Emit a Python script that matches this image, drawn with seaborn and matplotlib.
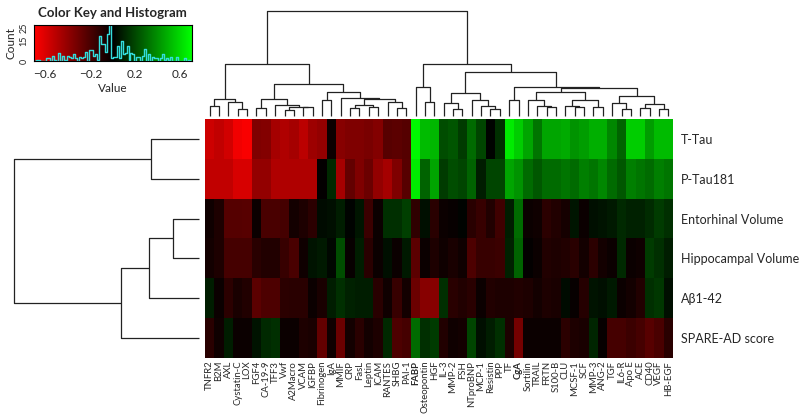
# -*- coding: utf-8 -*-
"""Biomarker vs AD-marker correlation heatmap with dendrograms"""
import numpy as np
import pandas as pd
import matplotlib
matplotlib.use("Agg")
import matplotlib.pyplot as plt
from matplotlib.colors import LinearSegmentedColormap
import seaborn as sns

sns.set_style("white")
plt.rcParams["font.family"] = ["Lato", "DejaVu Sans"]

# ===== data =====
columns = ["TNFR2", "B2M", "AXL", "Cystatin-C", "LOX", "FGF4", "CA-19-9", "TFF3", "Vwf",
           "A2Macro", "VCAM", "IGFBP", "Fibrinogen", "IgA", "MMIF", "CRP", "FasL", "Leptin",
           "ICAM", "RANTES", "SHBG", "PAI-1", "FABP", "Osteopontin", "HGF", "IL-3", "MMP-2",
           "FSH", "NTproBNP", "MCP-1", "Resistin", "PPP", "TF", "CgA", "Sortilin", "TRAIL",
           "FRTN", "S100-B", "CLU", "MCSF-1", "SCF", "MMP-3", "ANG-2", "TGF", "IL6-R", "Apo E",
           "ACE", "CD40", "VEGF", "HB-EGF"]
bold_cols = ["FABP", "CgA"]
rows = ["T-Tau", "P-Tau181", "Entorhinal Volume", "Hippocampal Volume", "Aβ1-42", "SPARE-AD score"]

t_tau = [-0.56, -0.53, -0.57, -0.66, -0.68, -0.35, -0.36, -0.45, -0.48, -0.45,
         -0.51, -0.43, -0.40, -0.03, -0.37, -0.35, -0.35, -0.33, -0.36, -0.24,
         -0.25, -0.23, 0.68, 0.51, 0.50, 0.21, 0.23, 0.16, 0.29, 0.19,
         0.01, 0.13, 0.64, 0.56, 0.45, 0.32, 0.45, 0.45, 0.47, 0.40,
         0.43, 0.48, 0.48, 0.37, 0.27, 0.56, 0.56, 0.43, 0.51, 0.51]
p_tau = [-0.53, -0.53, -0.53, -0.59, -0.59, -0.40, -0.40, -0.48, -0.48, -0.48,
         -0.48, -0.48, -0.01, 0.11, -0.45, -0.27, -0.35, -0.29, -0.40, -0.45,
         -0.35, -0.24, 0.64, 0.27, 0.45, 0.16, 0.21, 0.19, 0.27, 0.08,
         0.19, 0.19, 0.45, 0.40, 0.29, 0.24, 0.29, 0.29, 0.32, 0.29,
         0.35, 0.32, 0.37, 0.29, 0.24, 0.35, 0.32, 0.29, 0.35, 0.32]
entorhinal = [-0.04, -0.08, -0.23, -0.23, -0.24, -0.03, -0.20, -0.20, -0.19, -0.05,
              -0.08, -0.12, 0.03, 0.04, 0.08, 0.01, 0.06, -0.16, -0.03, 0.13,
              0.13, 0.17, -0.13, 0.04, -0.11, -0.03, -0.02, 0.01, -0.11, -0.15,
              -0.09, -0.17, 0.08, 0.29, -0.03, -0.04, -0.12, -0.09, -0.06, 0.06,
              -0.03, 0.04, 0.05, 0.07, 0.11, 0.09, 0.09, 0.12, 0.16, 0.13]
hippocampal = [-0.05, -0.08, -0.19, -0.19, -0.19, -0.11, -0.09, -0.09, -0.15, -0.20,
               -0.04, 0.05, 0.07, 0.02, 0.21, -0.02, 0.08, -0.11, -0.03, 0.04,
               -0.03, 0.07, -0.25, -0.03, -0.08, -0.04, -0.07, -0.04, -0.21, -0.15,
               -0.15, -0.16, 0.09, 0.27, -0.01, -0.03, -0.09, -0.08, -0.09, -0.11,
               -0.05, -0.12, -0.05, -0.03, 0.11, -0.03, -0.04, 0.16, 0.13, 0.08]
abeta = [0.08, -0.03, -0.12, -0.07, -0.09, -0.25, -0.21, -0.21, -0.12, -0.11,
         -0.11, -0.03, -0.07, 0.08, 0.13, 0.09, 0.08, 0.08, -0.11, -0.04,
         -0.15, -0.05, -0.29, -0.37, -0.37, 0.13, -0.11, -0.09, -0.11, -0.03,
         -0.09, -0.08, -0.08, -0.09, -0.08, -0.05, -0.08, -0.07, 0.03, -0.02,
         -0.10, 0.05, 0.04, 0.07, -0.03, -0.05, -0.09, 0.13, 0.15, 0.04]
spare_ad = [-0.11, -0.04, 0.08, -0.03, -0.03, 0.05, 0.11, 0.13, -0.03, -0.03,
            -0.08, -0.07, -0.27, -0.04, -0.29, -0.05, -0.11, -0.05, -0.08, 0.11,
            -0.21, -0.19, 0.29, 0.13, 0.16, -0.09, -0.04, -0.05, 0.19, 0.04,
            0.08, 0.13, -0.08, -0.32, -0.03, -0.03, -0.03, -0.03, -0.12, -0.08,
            -0.07, 0.10, -0.02, -0.19, -0.19, -0.16, -0.19, -0.24, -0.20, -0.11]

# cluster trees: (left, right, merge height), leaves = display index
col_tree = (
    ((((0, 1, 30), (2, (3, 4, 20), 43), 51),
      (((5, 6, 23), (7, ((8, 9, 18), (10, 11, 26), 28), 33), 51),
       ((12, 13, 48),
        (14, (((15, 16, 25), (17, 18, 28), 33), (19, (20, 21, 25), 43), 52), 55), 71), 95), 155)),
    ((22, (23, 24, 41), 88),
     (((25, (26, 27, 20), 38), (28, (29, (30, 31, 22), 30), 48), 68),
      ((32, 33, 48),
       (((34, (35, (36, 37, 26), 30), 48), ((38, (39, 40, 26), 30), (41, 42, 28), 48), 73),
        ((43, (44, 45, 22), 38), ((46, 47, 24), (48, 49, 20), 36), 60), 85), 88), 133), 155),
    315)
row_tree = ((0, 1, 145), (((2, 3, 78), 4, 151), 5, 235), 554)

df = pd.DataFrame([t_tau, p_tau, entorhinal, hippocampal, abeta, spare_ad],
                  index=rows, columns=columns)

cmap = LinearSegmentedColormap.from_list("redgreen", ["#FF0000", "#000000", "#00FF00"])
VMIN, VMAX = -0.7, 0.7
W, H = 800, 419


def box(x0, y0, x1, y1):
    return [x0 / W, 1 - y1 / H, (x1 - x0) / W, (y1 - y0) / H]


def draw_tree(ax, node, vertical):
    if isinstance(node, int):
        return node + 0.5, 0.0
    left, right, h = node
    p1, h1 = draw_tree(ax, left, vertical)
    p2, h2 = draw_tree(ax, right, vertical)
    ps, hs = [p1, p1, p2, p2], [h1, h, h, h2]
    if vertical:
        ax.plot(ps, hs, color="#222222", lw=0.9, clip_on=False, solid_capstyle="butt")
    else:
        ax.plot(hs, ps, color="#222222", lw=0.9, clip_on=False, solid_capstyle="butt")
    return (p1 + p2) / 2, h


fig = plt.figure(figsize=(8, 4.19), dpi=100)

# ===== heatmap =====
ax_hm = fig.add_axes(box(205, 119, 673, 358))
sns.heatmap(df, cmap=cmap, vmin=VMIN, vmax=VMAX, cbar=False, ax=ax_hm,
            xticklabels=True, yticklabels=True)
ax_hm.yaxis.tick_right()
ax_hm.tick_params(axis="both", length=0)
ax_hm.tick_params(axis="y", pad=6)
ax_hm.tick_params(axis="x", pad=2)
ax_hm.set_xticklabels(columns, rotation=90, fontsize=6.8)
ax_hm.set_yticklabels(rows, rotation=0, fontsize=9)
for lab in ax_hm.get_xticklabels():
    if lab.get_text() in bold_cols:
        lab.set_fontweight("bold")
ax_hm.set_xlabel(""); ax_hm.set_ylabel("")

# ===== column dendrogram =====
ax_cd = fig.add_axes(box(205, 11, 673, 116))
draw_tree(ax_cd, col_tree, True)
ax_cd.set_xlim(0, len(columns)); ax_cd.set_ylim(0, 315)
ax_cd.axis("off")

# ===== row dendrogram =====
ax_rd = fig.add_axes(box(14, 119, 199, 358))
draw_tree(ax_rd, row_tree, False)
ax_rd.set_xlim(554, 0); ax_rd.set_ylim(len(rows), 0)
ax_rd.axis("off")

# ===== color key + histogram =====
ax_k = fig.add_axes(box(34, 25, 191.5, 61))
grad = np.linspace(VMIN, VMAX, 256)[None, :]
ax_k.imshow(grad, cmap=cmap, vmin=VMIN, vmax=VMAX, aspect="auto",
            extent=[VMIN, VMAX, 0, 27], origin="lower")
counts, edges = np.histogram(df.values.ravel(), bins=np.linspace(VMIN, VMAX, 81))
ax_k.step(edges, np.append(counts, counts[-1]), where="post", color="#33dddd", lw=1.0)
ax_k.set_xlim(VMIN, VMAX); ax_k.set_ylim(0, 27)
ax_k.set_xticks([-0.6, -0.2, 0.2, 0.6])
ax_k.set_yticks([0, 15, 25])
ax_k.set_yticklabels(["0", "15", "25"], rotation=90, va="center")
ax_k.tick_params(axis="x", labelsize=8.5, length=3, direction="out", pad=3)
ax_k.tick_params(axis="y", labelsize=6.5, length=3, direction="out", pad=1)
ax_k.set_xlabel("Value", fontsize=8.5, labelpad=2)
ax_k.set_ylabel("Count", fontsize=8.5, labelpad=2)
ax_k.set_title("Color Key and Histogram", fontsize=9.5, fontweight="bold", pad=6)
for s in ax_k.spines.values():
    s.set_color("black"); s.set_linewidth(0.8)

fig.savefig("out.png", dpi=100)
plt.close(fig)
